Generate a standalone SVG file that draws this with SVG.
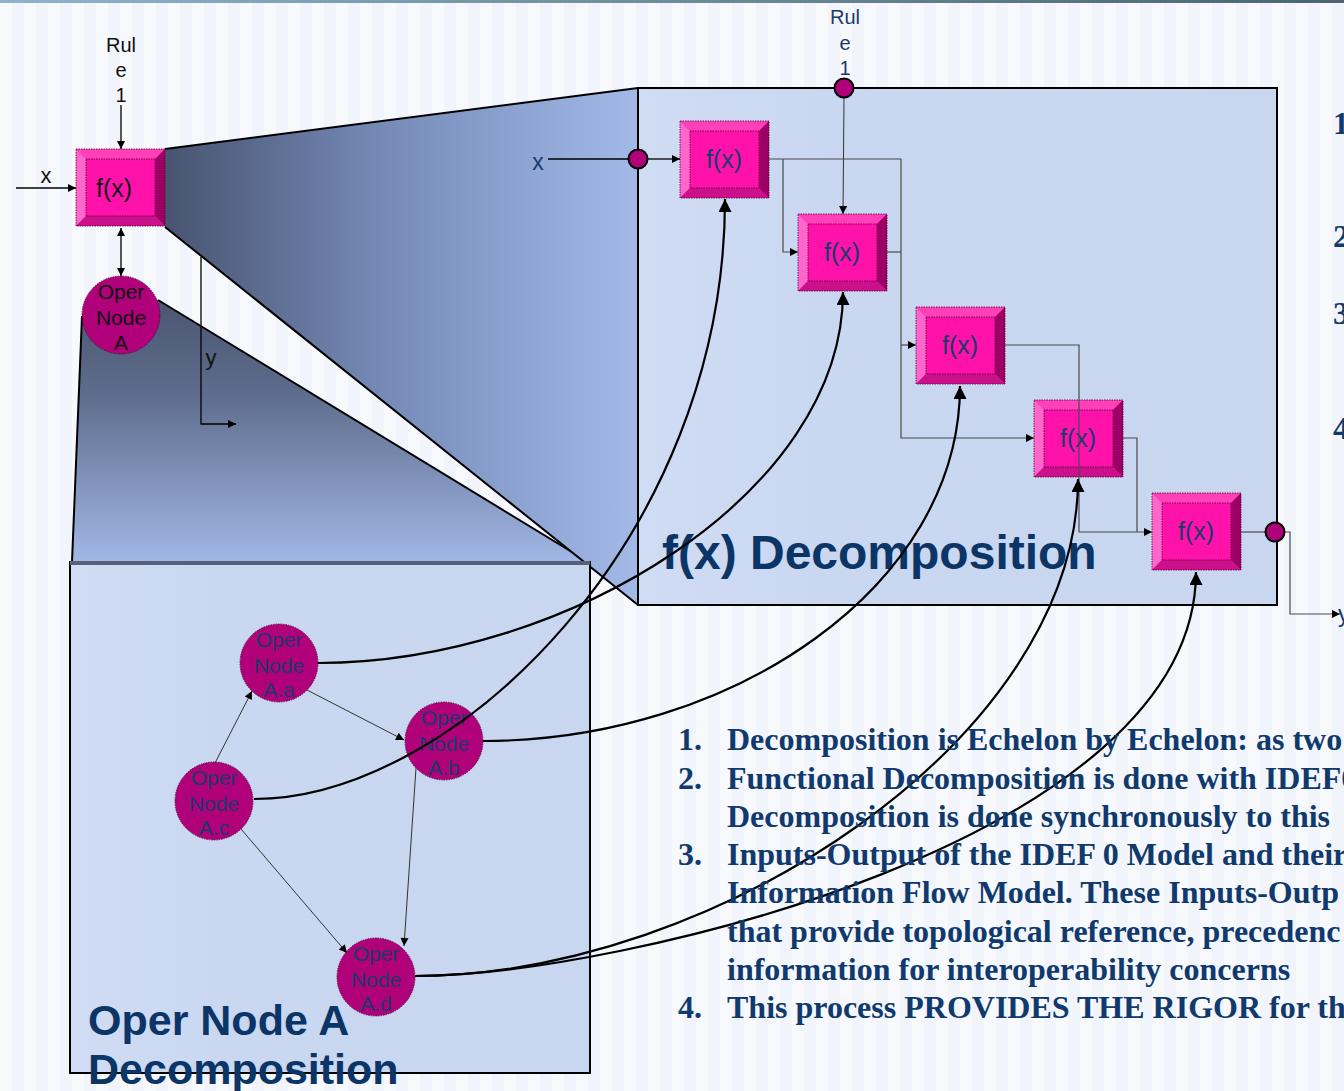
<svg xmlns="http://www.w3.org/2000/svg" xmlns:xlink="http://www.w3.org/1999/xlink" width="1344" height="1091" viewBox="0 0 1344 1091">
<defs>
<style>
.sans{font-family:"Liberation Sans",Arial,sans-serif}
.fx{font-family:"Liberation Sans",Arial,sans-serif;font-size:25px;text-anchor:middle;fill:#1b3a6b}
.fxk{fill:#151515}
.nd{font-family:"Liberation Sans",Arial,sans-serif;font-size:21px;text-anchor:middle;fill:#1b3a6b}
.ndk{fill:#111}
.circ{fill:#b0007a;stroke:#4a0030;stroke-width:0.8;stroke-dasharray:1.5 1}
.port{fill:#b0007a;stroke:#000;stroke-width:2}
.thin{stroke:#4a4a4a;stroke-width:1.2;fill:none}
.thinA{stroke:#333;stroke-width:1;fill:none;marker-end:url(#sm)}
.blk{stroke:#000;stroke-width:1.3;fill:none}
.curve{stroke:#000;stroke-width:2.2;fill:none;marker-end:url(#big)}
.edge{stroke:#000;stroke-width:2;fill:none}
.list{font-family:"Liberation Serif","Times New Roman",serif;font-weight:bold;font-size:32px;fill:#103a6d}
.title{font-family:"Liberation Sans",Arial,sans-serif;font-weight:bold;fill:#0b3566}
.navy{fill:#1b3a6b}
</style>
<pattern id="stripes" x="0" y="0" width="24" height="10" patternUnits="userSpaceOnUse">
<rect width="24" height="10" fill="#f1f5fb"/>
<rect width="12" height="10" fill="#f7f9fd"/>
</pattern>
<linearGradient id="topbar" x1="0" x2="1" y1="0" y2="0">
<stop offset="0" stop-color="#8fb3c7"/><stop offset="1" stop-color="#4c6473"/>
</linearGradient>
<linearGradient id="fun1" gradientUnits="userSpaceOnUse" x1="165" y1="0" x2="638" y2="0">
<stop offset="0" stop-color="#485470"/><stop offset="0.45" stop-color="#7489b6"/><stop offset="1" stop-color="#a3b9e7"/>
</linearGradient>
<linearGradient id="fun2" gradientUnits="userSpaceOnUse" x1="0" y1="300" x2="0" y2="562">
<stop offset="0" stop-color="#4b5671"/><stop offset="0.35" stop-color="#5d6c8c"/><stop offset="1" stop-color="#a1b7e6"/>
</linearGradient>
<linearGradient id="boxfill" x1="0" x2="1" y1="0" y2="0">
<stop offset="0" stop-color="#d0dcf3"/><stop offset="0.3" stop-color="#c9d7f1"/><stop offset="1" stop-color="#c8d6f0"/>
</linearGradient>
<marker id="sm" viewBox="0 0 10 10" refX="10" refY="5" markerWidth="10" markerHeight="8" markerUnits="userSpaceOnUse" orient="auto-start-reverse">
<path d="M0,0 L10,5 L0,10 z" fill="#000"/>
</marker>
<marker id="big" viewBox="0 0 10 10" refX="10" refY="5" markerWidth="15" markerHeight="13" markerUnits="userSpaceOnUse" orient="auto">
<path d="M0,0 L10,5 L0,10 z" fill="#000"/>
</marker>
<g id="fxbox">
<rect x="0" y="0" width="89" height="77" fill="#ff12aa"/>
<polygon points="0,0 89,0 79,10 10,10" fill="#ff40b9"/>
<polygon points="0,0 10,10 10,67 0,77" fill="#ff66cc"/>
<polygon points="89,0 89,77 79,67 79,10" fill="#9c0064"/>
<polygon points="0,77 10,67 79,67 89,77" fill="#cc0f8a"/>
<rect x="0" y="0" width="89" height="77" fill="none" stroke="#50002c" stroke-width="0.8" stroke-dasharray="1.5 1"/>
<rect x="10" y="10" width="69" height="57" fill="none" stroke="#50002c" stroke-width="0.8" stroke-dasharray="1.5 1"/>
</g>
</defs>

<!-- background -->
<rect width="1344" height="1091" fill="url(#stripes)"/>
<rect width="1344" height="3" fill="url(#topbar)"/>

<!-- funnels and containers -->
<g id="funnels">
<polygon points="82,316 72,562 590,563 158,300 121,315" fill="url(#fun2)"/>
<path class="edge" d="M82,316 L72,562 M158,300 L590,563"/>
<polygon points="165,149 638,88 638,605 165,227" fill="url(#fun1)"/>
<path class="edge" d="M165,149 L638,88 M165,227 L638,605"/>
</g>
<g id="lower-box">
<rect x="70" y="562" width="520" height="511" fill="url(#boxfill)" stroke="#000" stroke-width="2"/>
<line x1="70" y1="563" x2="590" y2="563" stroke="#56607a" stroke-width="4"/>
</g>
<g id="decomp-box">
<rect x="638" y="88" width="639" height="517" fill="url(#boxfill)" stroke="#000" stroke-width="2"/>
</g>

<!-- titles -->
<text class="title" x="662" y="569" font-size="48">f(x) Decomposition</text>
<text class="title" x="88" y="1035" font-size="43">Oper Node A</text>
<text class="title" x="88" y="1084" font-size="43">Decomposition</text>

<!-- labels -->
<g id="labels" class="sans">
<text x="121" y="52" font-size="20" text-anchor="middle" fill="#111">Rul</text>
<text x="121" y="77" font-size="20" text-anchor="middle" fill="#111">e</text>
<text x="121" y="102" font-size="20" text-anchor="middle" fill="#111">1</text>
<text x="46" y="183" font-size="22" text-anchor="middle" fill="#111">x</text>
<text x="211" y="365" font-size="22" text-anchor="middle" fill="#111">y</text>
<text x="845" y="24" font-size="20" text-anchor="middle" class="navy">Rul</text>
<text x="845" y="50" font-size="20" text-anchor="middle" class="navy">e</text>
<text x="845" y="75" font-size="20" text-anchor="middle" class="navy">1</text>
<text x="538" y="170" font-size="23" text-anchor="middle" class="navy">x</text>
<text x="1338" y="622" font-size="23" class="navy">y</text>
</g>

<!-- nodes -->
<g id="node-fx-top">
<use xlink:href="#fxbox" href="#fxbox" x="76" y="149"/>
<text class="fx fxk" x="114" y="197">f(x)</text>
</g>
<g id="node-oper-a">
<circle class="circ" cx="121" cy="315" r="39"/>
<text class="nd ndk" x="121" y="299">Oper</text>
<text class="nd ndk" x="121" y="325">Node</text>
<text class="nd ndk" x="121" y="350">A</text>
</g>
<g id="node-fx1">
<use xlink:href="#fxbox" href="#fxbox" x="680" y="121"/>
<text class="fx" x="724" y="168">f(x)</text>
</g>
<g id="node-fx2">
<use xlink:href="#fxbox" href="#fxbox" x="798" y="214"/>
<text class="fx" x="842" y="261">f(x)</text>
</g>
<g id="node-fx3">
<use xlink:href="#fxbox" href="#fxbox" x="916" y="307"/>
<text class="fx" x="960" y="354">f(x)</text>
</g>
<g id="node-fx4">
<use xlink:href="#fxbox" href="#fxbox" x="1034" y="400"/>
<text class="fx" x="1078" y="447">f(x)</text>
</g>
<g id="node-fx5">
<use xlink:href="#fxbox" href="#fxbox" x="1152" y="493"/>
<text class="fx" x="1196" y="540">f(x)</text>
</g>
<g id="node-aa">
<circle class="circ" cx="279" cy="663" r="39"/>
<text class="nd" x="279" y="647">Oper</text>
<text class="nd" x="279" y="673">Node</text>
<text class="nd" x="279" y="697">A.a</text>
</g>
<g id="node-ab">
<circle class="circ" cx="444" cy="741" r="39"/>
<text class="nd" x="444" y="725">Oper</text>
<text class="nd" x="444" y="751">Node</text>
<text class="nd" x="444" y="775">A.b</text>
</g>
<g id="node-ac">
<circle class="circ" cx="214" cy="801" r="39"/>
<text class="nd" x="214" y="785">Oper</text>
<text class="nd" x="214" y="811">Node</text>
<text class="nd" x="214" y="835">A.c</text>
</g>
<g id="node-ad">
<circle class="circ" cx="376" cy="977" r="39"/>
<text class="nd" x="376" y="961">Oper</text>
<text class="nd" x="376" y="987">Node</text>
<text class="nd" x="376" y="1011">A.d</text>
</g>

<!-- connectors -->
<g id="connectors">
<line class="blk" x1="16" y1="188" x2="76" y2="188" marker-end="url(#sm)"/>
<line class="blk" x1="121" y1="105" x2="121" y2="149" marker-end="url(#sm)"/>
<line class="blk" x1="121" y1="228" x2="121" y2="276" marker-start="url(#sm)" marker-end="url(#sm)"/>
<polyline class="blk" points="201,257 201,424 236,424" marker-end="url(#sm)"/>

<line x1="548" y1="159" x2="629" y2="159" stroke="#000" stroke-width="1.6"/>
<line class="blk" x1="648" y1="159" x2="680" y2="159" marker-end="url(#sm)"/>
<line class="thinA" x1="844" y1="97" x2="843" y2="214"/>
<polyline class="thin" points="769,159 901,159 901,438 1034,438" marker-end="url(#sm)"/>
<polyline class="thin" points="783,159 783,252 798,252" marker-end="url(#sm)"/>
<line class="thin" x1="887" y1="252" x2="901" y2="252"/>
<line class="thin" x1="901" y1="345" x2="916" y2="345" marker-end="url(#sm)"/>
<polyline class="thin" points="1005,345 1079,345 1079,532 1152,532" marker-end="url(#sm)"/>
<polyline class="thin" points="1123,438 1137,438 1137,532"/>
<line class="thin" x1="1241" y1="532" x2="1266" y2="532"/>
<polyline class="thin" points="1284,532 1290,532 1290,614 1340,614" marker-end="url(#sm)"/>

<line class="thinA" x1="215" y1="763" x2="252" y2="691"/>
<line class="thinA" x1="307" y1="690" x2="404" y2="740"/>
<line class="thinA" x1="416" y1="768" x2="404" y2="946"/>
<line class="thinA" x1="241" y1="829" x2="347" y2="953"/>

<path class="curve" d="M254,799 C454,799 725,538 725,199"/>
<path class="curve" d="M318,663 C568,663 843,492 843,292"/>
<path class="curve" d="M483,741 C733,741 960,586 960,386"/>
<path class="curve" d="M415,976 C715,976 1078,739 1078,479"/>
<path class="curve" d="M415,976 C614,976 1196,841 1196,572"/>
</g>

<g id="ports">
<circle class="port" cx="638" cy="159" r="9.5"/>
<circle class="port" cx="844" cy="88" r="9.5"/>
<circle class="port" cx="1275" cy="532" r="9.5"/>
</g>

<!-- right list (clipped at the edge as in the source) -->
<g id="side-list" class="list">
<text x="1333" y="134">1</text>
<text x="1333" y="247">2</text>
<text x="1333" y="324">3</text>
<text x="1333" y="439">4</text>
</g>

<!-- bottom list -->
<g id="notes" class="list">
<text x="678" y="750">1.</text><text x="727" y="750">Decomposition is Echelon by Echelon: as two</text>
<text x="678" y="789">2.</text><text x="727" y="789">Functional Decomposition is done with IDEF0</text>
<text x="727" y="827">Decomposition is done synchronously to this</text>
<text x="678" y="865">3.</text><text x="727" y="865">Inputs-Output of the  IDEF 0 Model and their</text>
<text x="727" y="903">Information Flow Model.  These Inputs-Outp</text>
<text x="727" y="942">that provide topological reference, precedenc</text>
<text x="727" y="980">information for interoperability concerns</text>
<text x="678" y="1018">4.</text><text x="727" y="1018">This process PROVIDES THE RIGOR for th</text>
</g>
</svg>
